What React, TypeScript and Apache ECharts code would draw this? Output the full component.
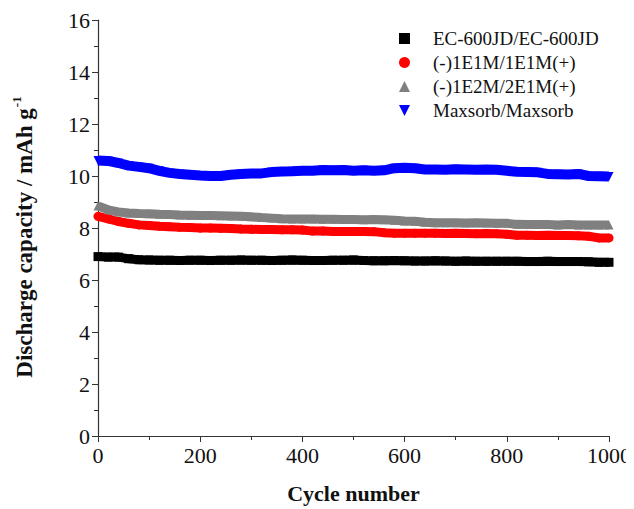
import React, { useEffect, useRef } from "react";
import * as echarts from "echarts";

const cycles = [
  0, 20, 40, 60, 80, 100, 120, 140, 160, 180, 200, 220, 240, 260, 280, 300, 320, 340, 360, 380,
  400, 420, 440, 460, 480, 500, 520, 540, 560, 580, 600, 620, 640, 660, 680, 700, 720, 740, 760, 780,
  800, 820, 840, 860, 880, 900, 920, 940, 960, 980, 1000,
];

const ec600 = [
  6.9, 6.88, 6.88, 6.82, 6.78, 6.77, 6.76, 6.76, 6.75, 6.76, 6.76, 6.75, 6.76, 6.76, 6.77, 6.76, 6.76, 6.75, 6.76, 6.77,
  6.76, 6.75, 6.75, 6.76, 6.76, 6.77, 6.75, 6.74, 6.74, 6.75, 6.74, 6.73, 6.73, 6.74, 6.73, 6.72, 6.73, 6.72, 6.72, 6.72,
  6.72, 6.72, 6.71, 6.71, 6.72, 6.71, 6.71, 6.71, 6.7, 6.68, 6.68,
];

const e1m = [
  8.45, 8.35, 8.25, 8.18, 8.12, 8.1, 8.07, 8.05, 8.03, 8.02, 8.0, 8.0, 7.99, 7.98, 7.96, 7.95, 7.94, 7.94, 7.93, 7.93,
  7.92, 7.88, 7.88, 7.87, 7.87, 7.87, 7.87, 7.86, 7.82, 7.8, 7.8, 7.8, 7.8, 7.8, 7.79, 7.8, 7.79, 7.78, 7.79, 7.78,
  7.76, 7.72, 7.72, 7.71, 7.72, 7.71, 7.71, 7.7, 7.68, 7.62, 7.62,
];

const e2m = [
  8.85, 8.7, 8.62, 8.58, 8.56, 8.55, 8.53, 8.52, 8.5, 8.49, 8.48, 8.48, 8.47, 8.46, 8.45, 8.43, 8.4, 8.38, 8.36, 8.35,
  8.35, 8.35, 8.34, 8.34, 8.33, 8.33, 8.32, 8.33, 8.32, 8.3, 8.27, 8.26, 8.22, 8.2, 8.2, 8.2, 8.19, 8.2, 8.19, 8.18,
  8.18, 8.14, 8.13, 8.13, 8.13, 8.12, 8.13, 8.12, 8.12, 8.12, 8.12,
];

const maxsorb = [
  10.6, 10.58, 10.5, 10.4, 10.35, 10.3, 10.2, 10.12, 10.08, 10.05, 10.02, 10.0, 10.0, 10.05, 10.08, 10.1, 10.1, 10.15, 10.17, 10.18,
  10.2, 10.2, 10.23, 10.22, 10.23, 10.2, 10.22, 10.2, 10.22, 10.3, 10.32, 10.3, 10.25, 10.25, 10.24, 10.26, 10.25, 10.24, 10.25, 10.24,
  10.2, 10.16, 10.15, 10.14, 10.08, 10.07, 10.06, 10.08, 10.0, 9.99, 9.98,
];

const seriesNames = ["EC-600JD/EC-600JD", "(-)1E1M/1E1M(+)", "(-)1E2M/2E1M(+)", "Maxsorb/Maxsorb"];
const seriesColors = ["#000000", "#ff0000", "#808080", "#0000ff"];
const downTri = "path://M0,0L10,0L5,10Z";
const seriesSymbols = ["rect", "circle", "triangle", downTri];
const seriesValues = [ec600, e1m, e2m, maxsorb];
const bandWidths = [9, 9, 9, 10];

const FONT = "'Liberation Serif', 'Times New Roman', serif";

export default function App() {
  const ref = useRef<HTMLDivElement>(null);
  useEffect(() => {
    if (!ref.current) return;
    const chart = echarts.init(ref.current, undefined, { renderer: "svg" });
    const axisCommon = {
      axisLine: { show: true, lineStyle: { color: "#333", width: 1.2 } },
      axisTick: { show: true, inside: false, length: 6, lineStyle: { color: "#333" } },
      minorTick: { show: true, splitNumber: 2, length: 4, lineStyle: { color: "#333" } },
      splitLine: { show: false },
    };
    chart.setOption({
      animation: false,
      backgroundColor: "#ffffff",
      grid: { left: 98, right: 23, top: 20, bottom: 73 },
      legend: {
        orient: "vertical",
        left: 394,
        top: 24,
        itemGap: 5,
        itemWidth: 11,
        itemHeight: 11,
        textStyle: { fontFamily: FONT, fontSize: 19, color: "#111", padding: [0, 0, 0, 18] },
        data: seriesNames.map((n, i) => ({ name: n, icon: seriesSymbols[i] })),
      },
      xAxis: {
        type: "value",
        min: 0,
        max: 1000,
        interval: 200,
        name: "Cycle number",
        nameLocation: "middle",
        nameGap: 46,
        nameTextStyle: { fontFamily: FONT, fontSize: 22, fontWeight: "bold", color: "#111" },
        axisLabel: { color: "#111", fontFamily: FONT, fontSize: 22, margin: 8, formatter: (v: number) => String(v) },
        ...axisCommon,
      },
      yAxis: {
        type: "value",
        min: 0,
        max: 16,
        interval: 2,
        name: "{t|Discharge capacity / mAh g}{s|-1}",
        nameLocation: "middle",
        nameGap: 62,
        nameTextStyle: {
          fontFamily: FONT,
          fontSize: 23,
          fontWeight: "bold",
          color: "#111",
          padding: [0, 18, 0, 0],
          rich: {
            t: { fontFamily: FONT, fontSize: 23, fontWeight: "bold", color: "#111", verticalAlign: "bottom", lineHeight: 26 },
            s: { fontFamily: FONT, fontSize: 13, fontWeight: "bold", color: "#111", verticalAlign: "top", lineHeight: 26, padding: [0, 0, 10, 1] },
          },
        },
        axisLabel: { color: "#111", fontFamily: FONT, fontSize: 22, margin: 8 },
        ...axisCommon,
      },
      series: seriesNames.map((n, i) => ({
        name: n,
        type: "line",
        data: cycles.map((c, j) => [c, seriesValues[i][j]]),
        symbol: seriesSymbols[i],
        symbolSize: 9,
        showSymbol: true,
        color: seriesColors[i],
        itemStyle: { color: seriesColors[i] },
        lineStyle: { color: seriesColors[i], width: bandWidths[i] },
        z: 2 + i,
      })),
    });
    return () => chart.dispose();
  }, []);
  return <div ref={ref} style={{ width: 634, height: 509, marginLeft: -8, marginTop: -8 }} />;
}
